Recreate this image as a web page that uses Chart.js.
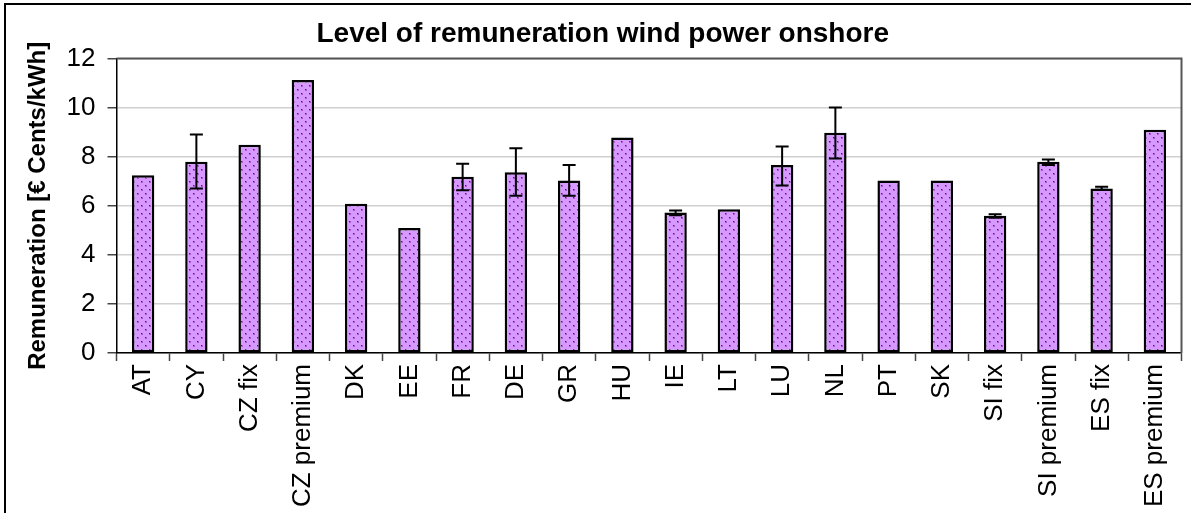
<!DOCTYPE html>
<html>
<head>
<meta charset="utf-8">
<script src="https://cdn.jsdelivr.net/npm/chart.js"></script>
<style>
  body { margin: 0; background: #fff; }
  canvas { display: block; }
</style>
</head>
<body>
<canvas id="remunerationChart" width="1191" height="513"></canvas>
<script>
  var countries = ['AT', 'CY', 'CZ fix', 'CZ premium', 'DK', 'EE', 'FR', 'DE', 'GR', 'HU',
                   'IE', 'LT', 'LU', 'NL', 'PT', 'SK', 'SI fix', 'SI premium', 'ES fix', 'ES premium'];
  var remuneration = [7.25, 7.8, 8.49, 11.13, 6.08, 5.1, 7.18, 7.37, 7.03, 8.78,
                      5.73, 5.86, 7.66, 8.98, 7.03, 7.03, 5.59, 7.8, 6.71, 9.1];
  // min / max of the range, null where the chart has no error bar
  var rangeLow  = [null, 6.71, null, null, null, null, 6.63, 6.41, 6.41, null,
                   5.61, null, 6.83, 7.93, null, null, 5.51, 7.66, 6.65, null];
  var rangeHigh = [null, 8.91, null, null, null, null, 7.71, 8.35, 7.66, null,
                   5.81, null, 8.42, 10.01, null, null, 5.66, 7.89, 6.78, null];
  var yTicks = [0, 2, 4, 6, 8, 10, 12];

  document.addEventListener('DOMContentLoaded', function(){

    // dotted violet fill like the excel pattern
    var tile = document.createElement('canvas');
    tile.width = 8; tile.height = 8;
    var tctx = tile.getContext('2d');
    tctx.fillStyle = '#d699ff';
    tctx.fillRect(0, 0, 8, 8);
    tctx.fillStyle = '#b258d0';
    tctx.fillRect(1, 1, 2, 2);
    tctx.fillRect(5, 5, 2, 2);
    tctx.fillStyle = '#6e0a7e';
    tctx.fillRect(1, 1, 1, 1);
    tctx.fillRect(5, 5, 1, 1);

    var ctx = document.getElementById('remunerationChart').getContext('2d');
    var dotted = ctx.createPattern(tile, 'repeat');

    var errorBars = {
      id: 'errorBars',
      afterDatasetsDraw: function(chart) {
        var meta = chart.getDatasetMeta(0);
        var y = chart.scales.y;
        var c = chart.ctx;
        c.save();
        c.strokeStyle = '#000';
        c.lineWidth = 2;
        meta.data.forEach(function(bar, i) {
          if (rangeLow[i] === null) return;
          var top = y.getPixelForValue(rangeHigh[i]);
          var bot = y.getPixelForValue(rangeLow[i]);
          c.beginPath();
          c.moveTo(bar.x, top); c.lineTo(bar.x, bot);
          c.moveTo(bar.x - 6.5, top); c.lineTo(bar.x + 6.5, top);
          c.moveTo(bar.x - 6.5, bot); c.lineTo(bar.x + 6.5, bot);
          c.stroke();
        });
        c.restore();
      }
    };

    var frames = {
      id: 'frames',
      afterDraw: function(chart) {
        var a = chart.chartArea;
        var c = chart.ctx;
        c.save();
        c.strokeStyle = '#555';
        c.lineWidth = 2;
        c.beginPath();
        c.moveTo(a.left, a.top); c.lineTo(a.right, a.top); c.lineTo(a.right, a.bottom);
        c.stroke();
        // outer chart border, runs off the right and bottom edge
        c.strokeStyle = '#000';
        c.lineWidth = 2;
        c.strokeRect(5, 4, 1300, 700);
        c.restore();
      }
    };

    var barChart = new Chart(ctx, {
      type: 'bar',
      data: {
        labels: countries,
        datasets: [{
          data: remuneration,
          backgroundColor: dotted,
          borderColor: '#000',
          borderWidth: 2.5,
          borderSkipped: false,
          categoryPercentage: 1,
          barPercentage: 0.42
        }]
      },
      options: {
        responsive: false,
        animation: false,
        layout: { padding: { left: 24, right: 9.5, top: 0, bottom: 0 } },
        plugins: {
          legend: { display: false },
          tooltip: { enabled: false },
          title: {
            display: true,
            text: 'Level of remuneration wind power onshore',
            color: '#000',
            font: { family: 'Liberation Sans, Arial', size: 28, weight: 'bold' },
            padding: { top: 17, bottom: 8 }
          }
        },
        scales: {
          x: {
            grid: { drawOnChartArea: false, drawTicks: true, tickLength: 8, tickColor: '#444', tickWidth: 1.5 },
            border: { color: '#000', width: 1.5 },
            ticks: {
              color: '#000', minRotation: 90, maxRotation: 90, autoSkip: false, padding: 3,
              font: { family: 'Liberation Sans, Arial', size: 26 }
            },
            afterFit: function(scale) { scale.height = 160; }
          },
          y: {
            min: 0,
            max: 12,
            afterBuildTicks: function(scale) {
              scale.ticks = yTicks.map(function(v) { return { value: v }; });
            },
            grid: { color: '#d0d0d0', lineWidth: 1.5, tickLength: 9, tickColor: '#444', tickWidth: 1.5 },
            border: { color: '#000', width: 1.5 },
            ticks: {
              color: '#000', padding: 12,
              font: { family: 'Liberation Sans, Arial', size: 26 }
            },
            title: {
              display: true,
              text: 'Remuneration [€ Cents/kWh]',
              color: '#000',
              font: { family: 'Liberation Sans, Arial', size: 24, weight: 'bold' },
              padding: { top: 0, bottom: 0 }
            },
            afterFit: function(scale) { scale.width = 92.5; }
          }
        }
      },
      plugins: [errorBars, frames]
    });
  });
</script>
</body>
</html>
